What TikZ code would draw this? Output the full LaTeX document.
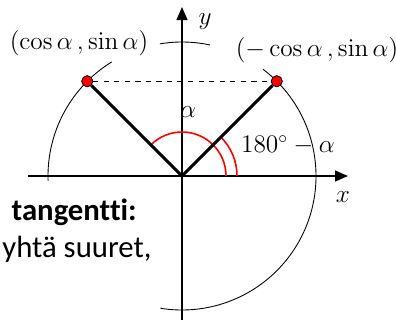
\documentclass[tikz,border=0pt]{standalone}
\usepackage[no-math]{fontspec}
\setmainfont{Carlito}[Ligatures=NoCommon]
\usepackage{amsmath}
\usetikzlibrary{arrows.meta}

\tikzset{
  axis/.style={line width=0.7pt, -{Triangle[length=2.6mm, width=2.2mm]}},
  unitarc/.style={line width=0.5pt},
  radius line/.style={line width=1.7pt},
  anglearc/.style={red, line width=0.9pt},
  dot/.style={circle, fill=red, draw=black, line width=0.4pt, minimum size=2.2mm, inner sep=0pt},
  mathlabel/.style={font=\fontsize{14}{16}\selectfont, inner sep=1pt},
  bodytext/.style={font=\fontsize{17.5}{21}\selectfont, inner sep=0pt}
}

\begin{document}
\begin{tikzpicture}
    \def\r{2.68}
    \clip (-3.64,-2.88) rectangle (4.28,3.52);
    % unit circle, broken where the labels are
    \draw[unitarc] (182:\r) arc[start angle=182, end angle=121.6, radius=\r];
    \draw[unitarc] (99.5:\r) arc[start angle=99.5, end angle=78, radius=\r];
    \draw[unitarc] (52.8:\r) arc[start angle=52.8, end angle=-99.3, radius=\r];
    % axes
    \coordinate (O)    at (0,0);
    \coordinate (xmin) at (-3.08,0);
    \coordinate (xmax) at (3.32,0);
    \coordinate (ymin) at (0,-2.88);
    \coordinate (ymax) at (0,3.38);
    \draw[axis] (xmin) -- (xmax);
    \draw[axis] (ymin) -- (ymax);
    \node[mathlabel] (xlab) at (3.22,-0.42) {$x$};
    \node[mathlabel] (ylab) at (0.46,3.08) {$y$};
    % points on the circle
    \node[dot] (pleft)  at (135:\r) {};
    \node[dot] (pright) at (45:\r)  {};
    \draw[dashed, line width=0.4pt] (pleft) -- (pright);
    % angles
    \draw[anglearc] (0.88,0) arc[start angle=0, end angle=135, radius=0.88];
    \draw[anglearc] (1.10,0) arc[start angle=0, end angle=45, radius=1.10];
    \draw[radius line] (O) -- (pleft);
    \draw[radius line] (O) -- (pright);
    \node[dot] at (pleft)  {};
    \node[dot] at (pright) {};
    \node[mathlabel] (alab)  at (0.12,1.28) {$\alpha$};
    \node[mathlabel] (salab) at (2.12,0.62) {$180^\circ - \alpha$};
    \node[mathlabel] (cleft)  at (-2.06,2.66) {$(\cos\alpha\,,\sin\alpha)$};
    \node[mathlabel] (cright) at (2.70,2.52) {$(-\cos\alpha\,,\sin\alpha)$};
    % text of the slide
    \node[bodytext, anchor=base east, font=\fontsize{17.5}{21}\selectfont\bfseries] (tang) at (-0.90,-0.88) {tangentti:};
    \node[bodytext, anchor=base west] (suuret) at (-3.60,-1.62) {yhtä suuret,};
\end{tikzpicture}
\end{document}
